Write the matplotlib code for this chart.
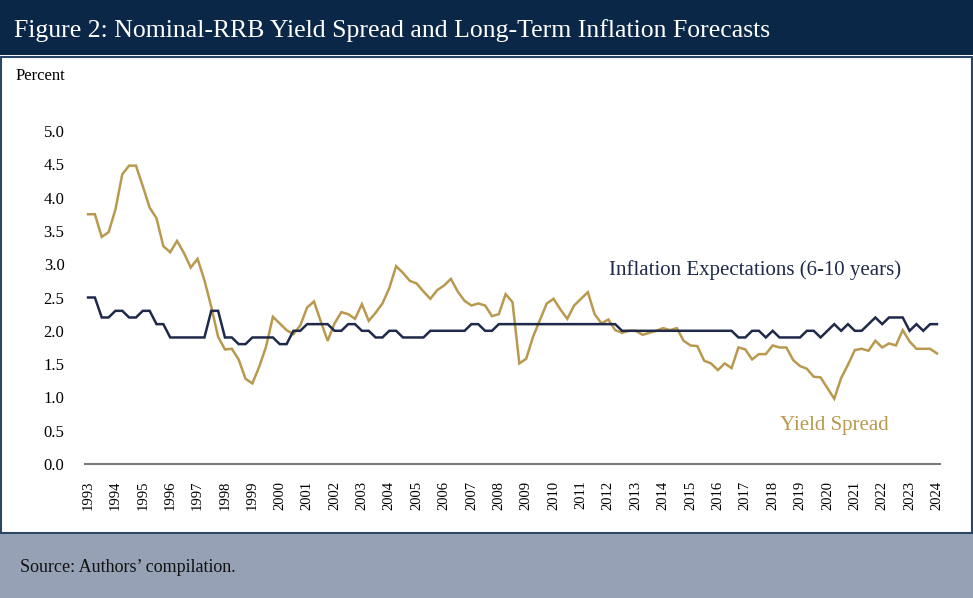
import matplotlib
matplotlib.use("Agg")
import matplotlib.pyplot as plt
from matplotlib.patches import Rectangle
import numpy as np

# quarterly observations, 1993Q1 - 2024Q1
start_year = 1993
years = list(range(1993, 2025))

inflation_expectations = [
    2.5, 2.5, 2.2, 2.2,   # 1993
    2.3, 2.3, 2.2, 2.2,   # 1994
    2.3, 2.3, 2.1, 2.1,   # 1995
    1.9, 1.9, 1.9, 1.9,   # 1996
    1.9, 1.9, 2.3, 2.3,   # 1997
    1.9, 1.9, 1.8, 1.8,   # 1998
    1.9, 1.9, 1.9, 1.9,   # 1999
    1.8, 1.8, 2.0, 2.0,   # 2000
    2.1, 2.1, 2.1, 2.1,   # 2001
    2.0, 2.0, 2.1, 2.1,   # 2002
    2.0, 2.0, 1.9, 1.9,   # 2003
    2.0, 2.0, 1.9, 1.9,   # 2004
    1.9, 1.9, 2.0, 2.0,   # 2005
    2.0, 2.0, 2.0, 2.0,   # 2006
    2.1, 2.1, 2.0, 2.0,   # 2007
    2.1, 2.1, 2.1, 2.1,   # 2008
    2.1, 2.1, 2.1, 2.1,   # 2009
    2.1, 2.1, 2.1, 2.1,   # 2010
    2.1, 2.1, 2.1, 2.1,   # 2011
    2.1, 2.1, 2.0, 2.0,   # 2012
    2.0, 2.0, 2.0, 2.0,   # 2013
    2.0, 2.0, 2.0, 2.0,   # 2014
    2.0, 2.0, 2.0, 2.0,   # 2015
    2.0, 2.0, 2.0, 1.9,   # 2016
    1.9, 2.0, 2.0, 1.9,   # 2017
    2.0, 1.9, 1.9, 1.9,   # 2018
    1.9, 2.0, 2.0, 1.9,   # 2019
    2.0, 2.1, 2.0, 2.1,   # 2020
    2.0, 2.0, 2.1, 2.2,   # 2021
    2.1, 2.2, 2.2, 2.2,   # 2022
    2.0, 2.1, 2.0, 2.1,   # 2023
    2.1,                  # 2024
]

yield_spread = [
    3.75, 3.75, 3.41, 3.48,   # 1993
    3.82, 4.35, 4.48, 4.48,   # 1994
    4.17, 3.85, 3.69, 3.27,   # 1995
    3.18, 3.35, 3.17, 2.95,   # 1996
    3.08, 2.76, 2.36, 1.91,   # 1997
    1.72, 1.73, 1.57, 1.28,   # 1998
    1.21, 1.46, 1.76, 2.21,   # 1999
    2.11, 2.01, 1.95, 2.08,   # 2000
    2.35, 2.44, 2.14, 1.85,   # 2001
    2.11, 2.28, 2.25, 2.18,   # 2002
    2.40, 2.15, 2.27, 2.41,   # 2003
    2.64, 2.97, 2.87, 2.75,   # 2004
    2.71, 2.59, 2.48, 2.61,   # 2005
    2.68, 2.78, 2.59, 2.45,   # 2006
    2.38, 2.41, 2.38, 2.22,   # 2007
    2.25, 2.55, 2.43, 1.51,   # 2008
    1.58, 1.91, 2.16, 2.41,   # 2009
    2.48, 2.32, 2.18, 2.38,   # 2010
    2.48, 2.58, 2.25, 2.11,   # 2011
    2.17, 2.01, 1.97, 2.00,   # 2012
    2.00, 1.94, 1.97, 2.00,   # 2013
    2.04, 2.01, 2.04, 1.85,   # 2014
    1.78, 1.77, 1.55, 1.51,   # 2015
    1.41, 1.51, 1.44, 1.75,   # 2016
    1.72, 1.57, 1.65, 1.65,   # 2017
    1.78, 1.75, 1.75, 1.56,   # 2018
    1.47, 1.43, 1.31, 1.30,   # 2019
    1.14, 0.98, 1.29, 1.49,   # 2020
    1.71, 1.73, 1.70, 1.85,   # 2021
    1.75, 1.81, 1.78, 2.01,   # 2022
    1.84, 1.73, 1.73, 1.73,   # 2023
    1.66,                     # 2024
]

y_ticks = [0.0, 0.5, 1.0, 1.5, 2.0, 2.5, 3.0, 3.5, 4.0, 4.5, 5.0]

NAVY = "#1f2a4a"
GOLD = "#b8994f"
SERIF = "Liberation Serif"

W, H = 973, 598
fig = plt.figure(figsize=(W / 100, H / 100), dpi=100)
fig.patch.set_facecolor("white")

# header banner, chart panel, footer (behind the axes)
fig.patches.append(Rectangle((0, 1 - 55 / H), 1, 55 / H, transform=fig.transFigure,
                             facecolor="#0b2747", edgecolor="none", zorder=-10))
fig.patches.append(Rectangle((1 / W, 65 / H), 1 - 2 / W, (533 - 57) / H, transform=fig.transFigure,
                             facecolor="white", edgecolor="#2b4566", linewidth=1.5, zorder=-10))
fig.patches.append(Rectangle((0, 0), 1, 64 / H, transform=fig.transFigure,
                             facecolor="#96a1b5", edgecolor="none", zorder=-10))

fig.text(14 / W, 1 - 31 / H, "Figure 2: Nominal-RRB Yield Spread and Long-Term Inflation Forecasts",
         color="white", fontsize=18.5, family=SERIF, va="center", ha="left")
fig.text(16 / W, 1 - 76 / H, "Percent", fontsize=12, family=SERIF, va="center", ha="left")
fig.text(20 / W, 1 - 567 / H, "Source: Authors\u2019 compilation.", fontsize=13,
         family=SERIF, va="center", ha="left", color="#111111")

ax = fig.add_axes([85.3 / W, 134 / H, 854.4 / W, 366.3 / H])
ax.set_facecolor("none")
ax.set_zorder(5)

x = start_year + np.arange(len(yield_spread)) * 0.25
ax.plot(x, yield_spread, color=GOLD, linewidth=1.8, solid_joinstyle="miter")
ax.plot(x, inflation_expectations, color=NAVY, linewidth=1.8, solid_joinstyle="miter")

ax.set_xlim(1992.9, 2024.1)
ax.set_ylim(0, 5.5)

for s in ["top", "right", "left"]:
    ax.spines[s].set_visible(False)
ax.spines["bottom"].set_color("#7a7a7a")
ax.spines["bottom"].set_linewidth(1.5)

ax.set_yticks(y_ticks)
ax.set_yticklabels([f"{v:.1f}" for v in y_ticks], family=SERIF, fontsize=12)
ax.set_xticks(years)
ax.set_xticklabels([str(y) for y in years], rotation=90, family=SERIF, fontsize=10.5)
ax.tick_params(axis="y", length=0, pad=15)
ax.tick_params(axis="x", length=0, pad=12)

ax.text(2012.02, 2.91, "Inflation Expectations (6-10 years)", color=NAVY,
        fontsize=15, family=SERIF, va="center", ha="left")
ax.text(2018.26, 0.585, "Yield Spread", color=GOLD,
        fontsize=15, family=SERIF, va="center", ha="left")

fig.savefig("out.png", dpi=100)
